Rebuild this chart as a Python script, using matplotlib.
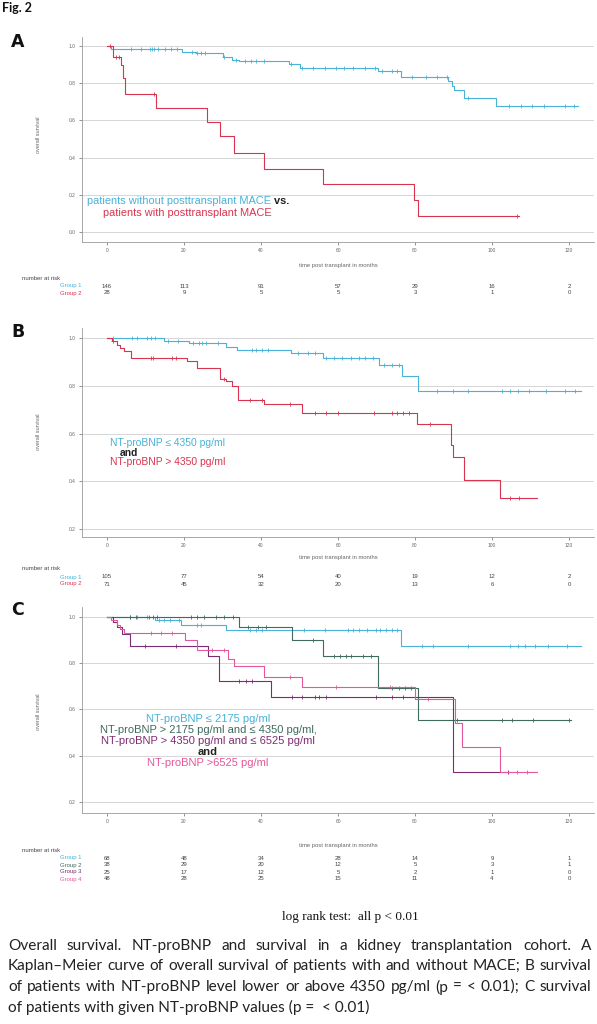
import numpy as np
import matplotlib
matplotlib.use("Agg")
import matplotlib.pyplot as plt
from matplotlib.transforms import blended_transform_factory

W, H, DPI = 597, 1024, 100

BLUE = "#48b2d8"
RED = "#d8344f"
GREEN = "#3f6b5e"
PURPLE = "#7e2c72"
PINK = "#e5579a"
GRID = "#d6d6d6"
AXC = "#9a9a9a"
TXT = "#666666"

months = [0, 20, 40, 60, 80, 100, 120]

# ---- panel A: with / without MACE
a1_t = [0, 1.0, 19.6, 23.0, 30.0, 32.4, 34.4, 47.2, 50.2, 70.5, 76.4, 88.7, 89.5, 90.2, 92.7, 101.0]
a1_s = [1.0, 0.983, 0.966, 0.960, 0.940, 0.927, 0.918, 0.903, 0.884, 0.865, 0.835, 0.810, 0.786, 0.765, 0.720, 0.676]
a1_end = 122.3
a1_cens = [6.2, 8.7, 11.1, 11.7, 12.2, 13.2, 15.1, 16.6, 18.1, 22.0, 23.5, 24.5, 25.5, 30.4,
           33.4, 35.9, 37.4, 38.8, 40.8, 47.7, 50.7, 53.6, 56.6, 59.6, 61.6, 64.0, 67.0, 69.5,
           71.4, 73.9, 75.4, 79.3, 82.8, 85.8, 88.2, 93.7, 104.5, 107.5, 110.5, 113.4, 118.9, 121.3]
a2_t = [0, 1.5, 3.6, 4.2, 4.7, 12.6, 26.0, 29.4, 33.0, 40.8, 56.0, 79.8, 80.8]
a2_s = [1.0, 0.94, 0.90, 0.83, 0.74, 0.667, 0.59, 0.517, 0.425, 0.34, 0.26, 0.172, 0.087]
a2_end = 107.0
a2_cens = [0.8, 2.3, 3.0, 12.2, 106.5]
a_risk1 = [146, 113, 91, 57, 29, 16, 2]
a_risk2 = [28, 9, 5, 5, 3, 1, 0]

# ---- panel B: NT-proBNP <= / > 4350
b1_t = [0, 14.9, 21.3, 30.8, 33.7, 47.9, 56.0, 70.6, 76.6, 80.9]
b1_s = [1.0, 0.989, 0.978, 0.964, 0.950, 0.938, 0.918, 0.886, 0.842, 0.780]
b1_end = 123.0
b1_cens = [1.5, 6.4, 7.9, 10.4, 11.4, 12.4, 15.9, 18.4, 22.3, 23.8, 24.8, 25.8, 28.8, 37.7,
           38.7, 40.2, 41.7, 49.6, 52.1, 54.1, 57.0, 59.0, 61.0, 63.5, 65.5, 67.0, 69.0, 71.9,
           73.9, 75.9, 85.8, 89.8, 93.8, 102.7, 104.7, 106.7, 109.7, 114.1, 119.0, 121.5]
b2_t = [0, 1.2, 2.5, 3.5, 4.5, 6.2, 20.8, 23.3, 29.4, 31.0, 32.5, 34.0, 40.7, 50.6, 80.4,
        89.3, 90.0, 92.8, 102.2]
b2_s = [1.0, 0.986, 0.972, 0.958, 0.944, 0.918, 0.905, 0.876, 0.83, 0.818, 0.80, 0.74, 0.725,
        0.688, 0.64, 0.55, 0.50, 0.407, 0.331]
b2_end = 111.6
b2_cens = [1.5, 11.4, 11.9, 16.9, 17.9, 30.3, 37.2, 40.2, 47.6, 54.1, 57.0, 60.0, 69.4, 73.9,
           75.4, 76.9, 78.4, 83.8, 104.7, 107.1]
b_risk1 = [105, 77, 54, 40, 19, 12, 2]
b_risk2 = [71, 45, 32, 20, 13, 6, 0]

# ---- panel C: four NT-proBNP groups
c1_t = [0, 12.4, 19.3, 30.8, 76.4]
c1_s = [1.0, 0.986, 0.967, 0.942, 0.876]
c1_end = 123.0
c1_cens = [6.0, 7.9, 10.4, 13.4, 14.9, 16.4, 18.8, 23.3, 24.3, 37.2, 38.7, 40.2, 51.1, 56.5,
           62.5, 64.0, 65.5, 67.5, 69.9, 70.9, 72.4, 73.9, 75.4, 81.8, 84.8, 93.8, 104.7,
           106.7, 108.7, 111.1, 114.6, 119.5]
c2_t = [0, 34.2, 48.1, 56.0, 70.4, 80.8]
c2_s = [1.0, 0.957, 0.902, 0.833, 0.693, 0.555]
c2_end = 120.5
c2_cens = [6.0, 7.4, 10.9, 11.9, 12.9, 21.8, 23.3, 25.3, 28.3, 30.3, 32.7, 36.7, 39.2, 41.2,
           53.6, 59.0, 60.5, 62.0, 63.5, 66.5, 68.5, 73.9, 75.9, 77.4, 78.9, 90.8, 102.7,
           105.2, 110.6, 120.0]
c3_t = [0, 1.5, 2.5, 4.0, 6.0, 26.3, 29.0, 42.7, 89.8]
c3_s = [1.0, 0.98, 0.955, 0.925, 0.873, 0.83, 0.722, 0.655, 0.328]
c3_end = 104.7
c3_cens = [9.9, 17.9, 34.2, 36.2, 37.7, 48.1, 50.6, 54.1, 55.1, 57.0, 69.9, 73.9, 76.9, 104.2]
c4_t = [0, 1.0, 2.5, 3.5, 4.5, 20.3, 23.3, 31.3, 33.0, 40.7, 50.6, 79.9, 90.3, 92.3, 102.2]
c4_s = [1.0, 0.987, 0.965, 0.95, 0.93, 0.90, 0.859, 0.82, 0.787, 0.741, 0.698, 0.643, 0.54,
        0.436, 0.328]
c4_end = 111.6
c4_cens = [11.4, 13.9, 16.9, 27.3, 30.3, 47.6, 59.5, 73.4, 83.3, 106.6, 109.1]
c_risk1 = [68, 48, 34, 28, 14, 9, 1]
c_risk2 = [38, 29, 20, 12, 5, 3, 1]
c_risk3 = [25, 17, 12, 5, 2, 1, 0]
c_risk4 = [48, 28, 25, 15, 11, 4, 0]

caption_lines = [
    "Overall survival. NT-proBNP and survival in a kidney transplantation cohort. A",
    "Kaplan\u2013Meier curve of overall survival of patients with and without MACE; B survival",
    "of patients with NT-proBNP level lower or above 4350 pg/ml (p =  < 0.01); C survival",
    "of patients with given NT-proBNP values (p =  < 0.01)",
]

SANS = "Liberation Sans"
CAP_FONT = "Lato"

fig = plt.figure(figsize=(W / DPI, H / DPI), dpi=DPI)
fig.patch.set_facecolor("white")
renderer = fig.canvas.get_renderer()


def fy(py):
    return 1 - py / H


def px_axes(l, t, r, b):
    return fig.add_axes([l / W, 1 - b / H, (r - l) / W, (b - t) / H])


def text_w(s, size, family=CAP_FONT, weight="normal"):
    t = fig.text(0, 0, s, fontsize=size, family=family, fontweight=weight)
    w = t.get_window_extent(renderer).width
    t.remove()
    return w


def style_axes(ax, ylim, yticks):
    ax.set_xlim(-6.5, 126.5)
    ax.set_ylim(*ylim)
    ax.set_xticks(months)
    ax.set_xticklabels([str(m) for m in months])
    ax.set_yticks(yticks)
    ax.set_yticklabels(["%.1f" % v for v in yticks])
    ax.grid(axis="y", color=GRID, lw=0.7)
    ax.set_axisbelow(True)
    for s in ["top", "right"]:
        ax.spines[s].set_visible(False)
    for s in ["left", "bottom"]:
        ax.spines[s].set_color(AXC)
        ax.spines[s].set_linewidth(0.6)
    ax.tick_params(axis="both", labelsize=3.5, colors=TXT, width=0.5, length=2.5, pad=2)
    for lab in ax.get_xticklabels() + ax.get_yticklabels():
        lab.set_family(SANS)
    ax.set_facecolor("white")


def km(ax, t, s, t_end, cens, color):
    xs = list(t) + [t_end]
    ys = list(s) + [s[-1]]
    ax.step(xs, ys, where="post", color=color, lw=0.8)
    idx = np.searchsorted(t, cens, side="right") - 1
    ax.plot(cens, np.array(s)[idx], ls="none", marker="+", ms=3, mew=0.6, color=color)


def side_labels(ax, y_center, y_xlab):
    fig.text(39 / W, fy(y_center), "overall survival", rotation=90, ha="center", va="center",
             fontsize=4, color=TXT, family=SANS)
    fig.text(338 / W, fy(y_xlab), "time post transplant in months", ha="center", va="center",
             fontsize=4.2, color=TXT, family=SANS)


def risk_table(ax, y_head, rows):
    tr = blended_transform_factory(ax.transData, fig.transFigure)
    fig.text(22 / W, fy(y_head), "number at risk", fontsize=4.3, color="#444",
             va="center", family=SANS)
    for lab, col, counts, y in rows:
        fig.text(82 / W, fy(y), lab, ha="right", va="center", fontsize=4.3, color=col,
                 family=SANS)
        for m, c in zip(months, counts):
            ax.text(m, fy(y), str(c), transform=tr, ha="center", va="center",
                    fontsize=4.3, color="#444", family=SANS)


# ---------------- Panel A
axA = px_axes(82, 37, 594, 242)
style_axes(axA, (-0.052, 1.048), [0.0, 0.2, 0.4, 0.6, 0.8, 1.0])
km(axA, a1_t, a1_s, a1_end, a1_cens, BLUE)
km(axA, a2_t, a2_s, a2_end, a2_cens, RED)
side_labels(axA, 135, 265)
risk_table(axA, 278, [("Group 1", BLUE, a_risk1, 286), ("Group 2", RED, a_risk2, 293)])
A_SIZE = 7.9
line_a1 = "patients without posttransplant MACE"
fig.text(87 / W, fy(201.5), line_a1, color=BLUE, fontsize=A_SIZE, va="center", family=SANS)
x_vs = 87 + text_w(line_a1, A_SIZE, SANS)
fig.text(x_vs / W, fy(201.5), " vs.", fontsize=A_SIZE, fontweight="bold", color="#222",
         family=SANS, va="center")
fig.text(103 / W, fy(213), "patients with posttransplant MACE", color=RED,
         fontsize=A_SIZE, va="center", family=SANS)

# ---------------- Panel B
axB = px_axes(82, 328, 594, 537)
style_axes(axB, (0.1665, 1.042), [0.2, 0.4, 0.6, 0.8, 1.0])
km(axB, b1_t, b1_s, b1_end, b1_cens, BLUE)
km(axB, b2_t, b2_s, b2_end, b2_cens, RED)
side_labels(axB, 432, 557)
risk_table(axB, 569, [("Group 1", BLUE, b_risk1, 577), ("Group 2", RED, b_risk2, 584)])
fig.text(110 / W, fy(443), "NT-proBNP \u2264 4350 pg/ml", color=BLUE, fontsize=7.4,
         va="center", family=SANS)
fig.text(120 / W, fy(452.5), "and", color="#222", fontsize=7.4, fontweight="bold",
         va="center", family=SANS)
fig.text(110 / W, fy(462), "NT-proBNP > 4350 pg/ml", color=RED, fontsize=7.4,
         va="center", family=SANS)

# ---------------- Panel C
axC = px_axes(82, 607, 594, 813)
style_axes(axC, (0.152, 1.043), [0.2, 0.4, 0.6, 0.8, 1.0])
km(axC, c1_t, c1_s, c1_end, c1_cens, BLUE)
km(axC, c2_t, c2_s, c2_end, c2_cens, GREEN)
km(axC, c3_t, c3_s, c3_end, c3_cens, PURPLE)
km(axC, c4_t, c4_s, c4_end, c4_cens, PINK)
side_labels(axC, 712, 845)
risk_table(axC, 851, [("Group 1", BLUE, c_risk1, 858), ("Group 2", GREEN, c_risk2, 865),
                      ("Group 3", PURPLE, c_risk3, 872), ("Group 4", PINK, c_risk4, 879)])
c_lines = [("NT-proBNP \u2264 2175 pg/ml", BLUE, "normal"),
           ("NT-proBNP > 2175 pg/ml and \u2264 4350 pg/ml,", GREEN, "normal"),
           ("NT-proBNP > 4350 pg/ml and \u2264 6525 pg/ml", PURPLE, "normal"),
           ("and", "#222", "bold"),
           ("NT-proBNP >6525 pg/ml", PINK, "normal")]
for i, (s, col, wt) in enumerate(c_lines):
    fig.text(208 / W, fy(719 + i * 11), s, color=col, fontsize=8.0, fontweight=wt,
             ha="center", va="center", family=SANS)

# panel letters and header
for lab, y in [("A", 42), ("B", 332), ("C", 610)]:
    fig.text(11 / W, fy(y), lab, fontsize=12.5, fontweight="bold", family="DejaVu Sans",
             va="center", color="#111")
fig.text(2 / W, fy(8), "Fig. 2", fontsize=9, fontweight="bold", family=CAP_FONT,
         va="center", color="#111")

fig.text(350 / W, fy(917), "log rank test:  all p < 0.01", fontsize=9.5,
         family="Liberation Serif", ha="center", va="center", color="#111")

# ---------------- caption, justified
cap_left, cap_right = 8, 591
cap_size = 10.0 * 363 / text_w(caption_lines[3], 10)
caption_y = [946, 966, 987, 1007]
for i, line in enumerate(caption_lines):
    y = fy(caption_y[i])
    if i < 3:
        words = line.split()
        widths = [text_w(w, cap_size) for w in words]
        gap = (cap_right - cap_left - sum(widths)) / (len(words) - 1)
        x = cap_left
        for w, wd in zip(words, widths):
            fig.text(x / W, y, w, fontsize=cap_size, family=CAP_FONT, va="center",
                     color="#222")
            x += wd + gap
    else:
        fig.text(cap_left / W, y, line, fontsize=cap_size, family=CAP_FONT, va="center",
                 color="#222")

fig.savefig("out.png", dpi=DPI, facecolor="white")
